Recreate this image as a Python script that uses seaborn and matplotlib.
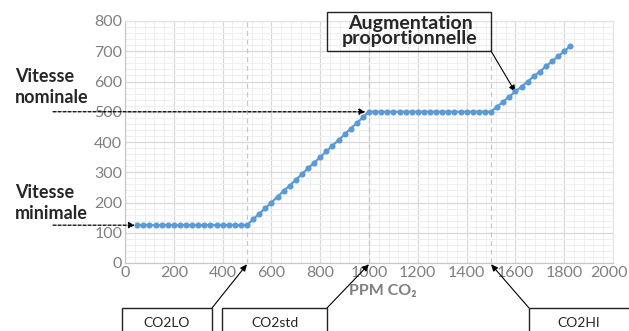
import matplotlib
matplotlib.use("Agg")
import matplotlib.pyplot as plt
import matplotlib.transforms as mtransforms
from matplotlib.patches import Rectangle
from matplotlib.ticker import MultipleLocator
import numpy as np
import pandas as pd
import seaborn as sns

# CO2 concentration (ppm) and fan speed
ppm = [50, 75, 100, 125, 150, 175, 200, 225, 250, 275, 300, 325, 350, 375, 400, 425, 450, 475,
       500, 525, 550, 575, 600, 625, 650, 675, 700, 725, 750, 775, 800, 825, 850, 875, 900, 925,
       950, 975, 1000, 1025, 1050, 1075, 1100, 1125, 1150, 1175, 1200, 1225, 1250, 1275, 1300,
       1325, 1350, 1375, 1400, 1425, 1450, 1475, 1500, 1525, 1550, 1575, 1600, 1625, 1650, 1675,
       1700, 1725, 1750, 1775, 1800, 1825]
speed = [125, 125, 125, 125, 125, 125, 125, 125, 125, 125, 125, 125, 125, 125, 125, 125, 125, 125,
         125, 144, 163, 181, 200, 219, 238, 256, 275, 294, 313, 331, 350, 369, 388, 406, 425, 444,
         463, 481, 500, 500, 500, 500, 500, 500, 500, 500, 500, 500, 500, 500, 500,
         500, 500, 500, 500, 500, 500, 500, 500, 517, 533, 550, 567, 583, 600, 617, 633, 650, 667,
         683, 700, 717]

x_ticks = [0, 200, 400, 600, 800, 1000, 1200, 1400, 1600, 1800, 2000]
y_ticks = [0, 100, 200, 300, 400, 500, 600, 700, 800]
thresholds = [500, 1000, 1500]
speed_min = 125
speed_nom = 500

W, H = 629, 331
sns.set_style("white")
plt.rcParams["font.family"] = ["Lato", "DejaVu Sans"]

fig = plt.figure(figsize=(W / 100, H / 100), dpi=100)


def fx(px):
    return px / W


def fy(py):
    return 1 - py / H


ax = fig.add_axes([fx(125), fy(263), fx(613) - fx(125), fy(21) - fy(263)])

df = pd.DataFrame({"ppm": ppm, "speed": speed})
sns.lineplot(data=df, x="ppm", y="speed", ax=ax, color="#5b9bd5", marker="o",
             markersize=4.4, markeredgewidth=0, linewidth=1.6, zorder=5)

ax.set_xlim(0, 2000)
ax.set_ylim(0, 800)
ax.set_xticks(x_ticks)
ax.set_yticks(y_ticks)
ax.xaxis.set_minor_locator(MultipleLocator(40))
ax.yaxis.set_minor_locator(MultipleLocator(20))
ax.grid(which="major", color="#d9d9d9", linewidth=0.9)
ax.grid(which="minor", color="#efefef", linewidth=0.7)
ax.set_axisbelow(True)
ax.tick_params(which="both", length=0, labelsize=11.5, labelcolor="#808080", pad=2)
ax.set_xlabel("")
ax.set_ylabel("")
for side in ["top", "right"]:
    ax.spines[side].set_color("#e6e6e6")
for side in ["left", "bottom"]:
    ax.spines[side].set_color("#c8c8c8")
for s in ax.spines.values():
    s.set_linewidth(0.9)

# last x label sits a little left so it stays inside the picture
fig.canvas.draw()
last = ax.get_xticklabels()[-1]
last.set_transform(last.get_transform() + mtransforms.ScaledTranslation(-4 / 100, 0, fig.dpi_scale_trans))

for t in thresholds:
    ax.axvline(t, color="#c8c8c8", linestyle=(0, (4, 3)), linewidth=0.9, zorder=2)

# dashed arrows for min / nominal speed
dash = dict(arrowstyle="-|>,head_length=0.35,head_width=0.18", color="black",
            linestyle=(0, (2.5, 1.5)), linewidth=0.9, shrinkA=0, shrinkB=0)
ax.annotate("", xy=(985, speed_nom), xytext=(fx(53), speed_nom),
            textcoords=("figure fraction", "data"), arrowprops=dash, annotation_clip=False)
ax.annotate("", xy=(40, speed_min), xytext=(fx(53), speed_min),
            textcoords=("figure fraction", "data"), arrowprops=dash, annotation_clip=False)

fig.text(fx(15), fy(87), "Vitesse\nnominale", fontsize=13, fontweight="bold",
         ha="left", va="center", linespacing=1.25)
fig.text(fx(15), fy(203), "Vitesse\nminimale", fontsize=13, fontweight="bold",
         ha="left", va="center", linespacing=1.25)

# top annotation box
fig.patches.append(Rectangle((fx(327), fy(51)), fx(491) - fx(327), fy(12) - fy(51),
                             transform=fig.transFigure, fill=False, edgecolor="#222222",
                             linewidth=1.0))
fig.text(fx(410), fy(31), "Augmentation\nproportionnelle", fontsize=14, fontweight="bold",
         ha="center", va="center", linespacing=0.85)

solid = dict(arrowstyle="-|>,head_length=0.4,head_width=0.18", color="black",
             linewidth=0.8, shrinkA=0, shrinkB=0)
ax.annotate("", xy=(1600, 565), xytext=(fx(491), fy(51)),
            textcoords="figure fraction", arrowprops=solid, annotation_clip=False)

fig.text(fx(383), fy(291), "PPM CO\u2082", fontsize=11.5, fontweight="bold",
         color="#7f7f7f", ha="center", va="center")

# bottom labelled boxes, cut by the figure edge
boxes = [("CO2LO", 122, 212, 212, 500), ("CO2std", 222, 327, 327, 1000),
         ("CO2HI", 529, 640, 529, 1500)]
for label, x0, x1, xa, target in boxes:
    fig.patches.append(Rectangle((fx(x0), fy(345)), fx(x1) - fx(x0), fy(308) - fy(345),
                                 transform=fig.transFigure, fill=False,
                                 edgecolor="#222222", linewidth=1.0, clip_on=False))
    cx = (x0 + min(x1, 629)) / 2
    fig.text(fx(cx), fy(323), label, fontsize=10, ha="center", va="center")
    ax.annotate("", xy=(target, -4), xytext=(fx(xa), fy(308)),
                textcoords="figure fraction", arrowprops=solid, annotation_clip=False)

fig.savefig("out.png", dpi=100)
